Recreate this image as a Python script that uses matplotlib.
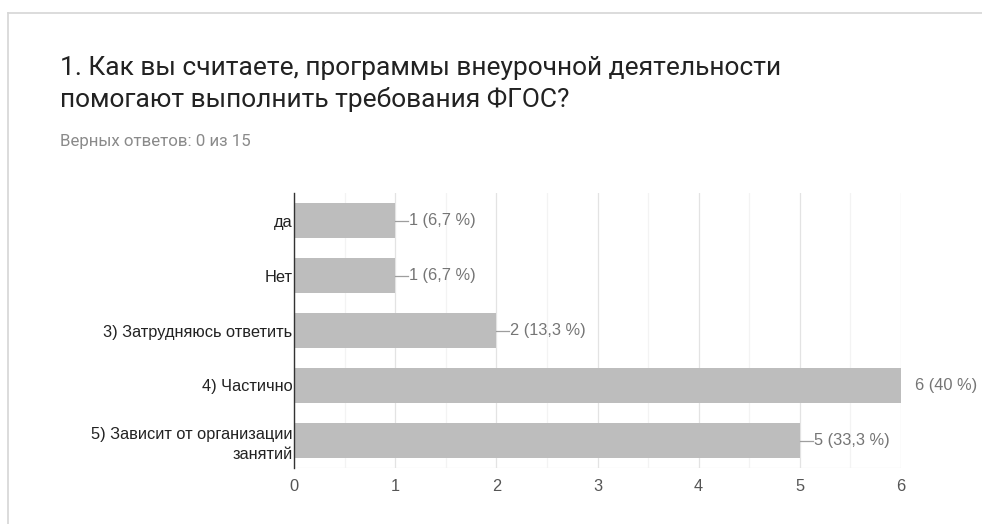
import matplotlib

matplotlib.use("Agg")
import matplotlib.pyplot as plt  # noqa: E402
from matplotlib.lines import Line2D  # noqa: E402

TITLE_LINES = ["1. Как вы считаете, программы внеурочной деятельности",
               "помогают выполнить требования ФГОС?"]
SUBTITLE = "Верных ответов: 0 из 15"
categories = ["да", "Нет", "3) Затрудняюсь ответить", "4) Частично",
              "5) Зависит от организации\nзанятий"]
counts = [1, 1, 2, 6, 5]
labels = ["1 (6,7 %)", "1 (6,7 %)", "2 (13,3 %)", "6 (40 %)", "5 (33,3 %)"]

BAR = "#bdbdbd"
TEXT = "#222222"
MUTED = "#757575"
CHART_FONT = ["Liberation Sans", "DejaVu Sans"]
W, H = 982, 524

fig = plt.figure(figsize=(W / 100, H / 100), dpi=100)
fig.patch.set_facecolor("white")

# card border (top and left edges)
fig.add_artist(Line2D([8 / W, 1], [1 - 13 / H] * 2, color="#d6d6d6", lw=1.2))
fig.add_artist(Line2D([8 / W] * 2, [0, 1 - 13 / H], color="#d6d6d6", lw=1.2))

for line, base in zip(TITLE_LINES, [75, 107]):
    fig.text(60 / W, 1 - base / H, line, family=["Roboto", "DejaVu Sans"], fontsize=19,
             color=TEXT, va="baseline", ha="left")
fig.text(60 / W, 1 - 146 / H, SUBTITLE, family=["Roboto", "DejaVu Sans"], fontsize=12.2,
         color="#8a8a8a", va="baseline", ha="left")

ax = fig.add_axes([294 / W, 1 - 468 / H, 607 / W, 275 / H])
y = list(range(len(categories)))
ax.barh(y, counts, height=0.62, color=BAR, zorder=2)
ax.set_ylim(len(categories) - 0.5, -0.5)
ax.set_xlim(0, 6)

ax.set_xticks(range(0, 7))
ax.set_xticks([i + 0.5 for i in range(6)], minor=True)
ax.grid(axis="x", which="major", color="#e3e3e3", lw=0.9, zorder=0)
ax.grid(axis="x", which="minor", color="#f3f3f3", lw=0.9, zorder=0)
ax.tick_params(axis="x", which="both", length=0, labelsize=11.8, labelcolor="#555555", pad=8)
ax.tick_params(axis="y", length=0, pad=1)
ax.set_yticks(y)
ax.set_yticklabels(categories, fontsize=11.8, color=TEXT, family=CHART_FONT,
                   ha="right", linespacing=1.4)
for lbl in ax.get_xticklabels():
    lbl.set_family(CHART_FONT)

for side in ("top", "right", "bottom"):
    ax.spines[side].set_visible(False)
ax.spines["left"].set_color("#333333")
ax.spines["left"].set_linewidth(1.0)
ax.spines["left"].set_zorder(3)
ax.axhline(len(categories) - 0.5, color="#ececec", lw=0.9, zorder=1)

x_max = ax.get_xlim()[1]
for yi, c, txt in zip(y, counts, labels):
    if c < x_max:
        ax.plot([c, c + 0.13], [yi, yi], color="#9e9e9e", lw=0.9, zorder=3)
    ax.text(c + 0.14, yi, txt, fontsize=11.8, color=MUTED, va="center", ha="left",
            family=CHART_FONT, zorder=3, clip_on=False)

fig.savefig("out.png", dpi=100, facecolor="white")
